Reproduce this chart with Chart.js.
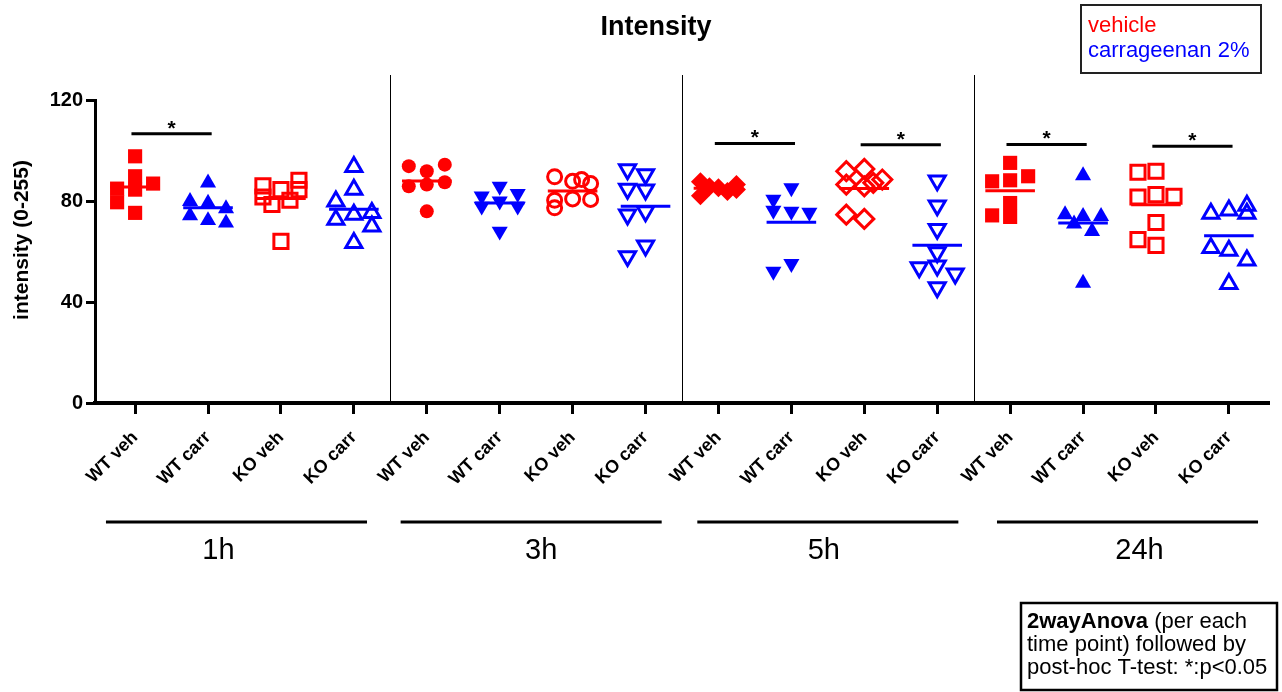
<!DOCTYPE html>
<html>
<head>
<meta charset="utf-8">
<script src="https://cdn.jsdelivr.net/npm/chart.js@4.4.1/dist/chart.umd.min.js"></script>
<style>
  html, body { margin: 0; padding: 0; background: #fff; }
  #wrap { width: 1282px; height: 692px; position: relative; }
</style>
</head>
<body>
<div id="wrap"><canvas id="c" width="1282" height="692"></canvas></div>
<script>
// Groups along the x axis (repeated for each time point)
const categories = ['WT veh', 'WT carr', 'KO veh', 'KO carr'];
const timePoints = ['1h', '3h', '5h', '24h'];
const yTicks = [0, 40, 80, 120];

// Intensity values (0-255 scale) per animal
const wtVeh1h   = [84.5, 84.9, 86.9, 79.5, 89.8, 97.7, 75.3];
const wtCarr1h  = [79.2, 79.9, 77.0, 74.2, 72.3, 71.3, 87.2];
const koVeh1h   = [84.5, 86.0, 88.2, 84.5, 81.6, 80.3, 78.6, 64.0];
const koCarr1h  = [93.5, 84.5, 79.9, 74.6, 75.3, 72.6, 70.0, 63.4];
const wtVeh3h   = [86.5, 85.8, 87.4, 91.8, 93.8, 94.4, 75.9];
const wtCarr3h  = [85.8, 81.9, 82.9, 79.9, 77.9, 77.9, 68.0];
const koVeh3h   = [87.8, 89.6, 86.9, 88.5, 80.8, 77.3, 80.6, 80.3];
const koCarr3h  = [90.5, 92.5, 84.5, 84.8, 75.9, 74.6, 62.3, 58.1];
const wtVeh5h   = [85.2, 87.6, 86.5, 85.6, 82.1, 83.8, 84.6];
const wtCarr5h  = [85.2, 80.6, 75.9, 75.5, 76.3, 55.2, 52.1];
const koVeh5h   = [92.7, 91.8, 88.5, 85.8, 86.5, 87.2, 72.9, 74.6];
const koCarr5h  = [88.1, 78.2, 68.9, 59.6, 54.4, 53.7, 51.2, 45.8];
const wtVeh24h  = [95.1, 88.2, 87.8, 89.8, 79.2, 73.7, 74.3];
const wtCarr24h = [90.1, 73.9, 74.6, 73.9, 71.0, 68.0, 47.5];
const koVeh24h  = [91.8, 91.4, 82.5, 81.6, 81.9, 71.5, 62.4, 64.7];
const koCarr24h = [76.3, 75.0, 78.2, 75.0, 60.4, 61.4, 56.5, 47.2];

// Significant comparisons (group index pairs) and the height of their bars
const sigPairs  = [[0, 1], [8, 9], [10, 11], [12, 13], [14, 15]];
const sigLevels = [106.6, 102.8, 102.3, 102.4, 101.7];

const groups = [
  wtVeh1h, wtCarr1h, koVeh1h, koCarr1h,
  wtVeh3h, wtCarr3h, koVeh3h, koCarr3h,
  wtVeh5h, wtCarr5h, koVeh5h, koCarr5h,
  wtVeh24h, wtCarr24h, koVeh24h, koCarr24h
];

const RED = '#ff0000', BLUE = '#0000ff';
const FONT = '"Liberation Sans", Arial, sans-serif';

// marker style per group: [shape, rotation, filled]
const markerStyles = [
  ['rect', 0, true], ['triangle', 0, true], ['rect', 0, false], ['triangle', 0, false],
  ['circle', 0, true], ['triangle', 180, true], ['circle', 0, false], ['triangle', 180, false],
  ['rectRot', 0, true], ['triangle', 180, true], ['rectRot', 0, false], ['triangle', 180, false],
  ['rect', 0, true], ['triangle', 0, true], ['rect', 0, false], ['triangle', 0, false]
];
const radiusFor = { rect: 10, triangle: 9.3, circle: 7, rectRot: 9.5 };

const mean = a => a.reduce((s, v) => s + v, 0) / a.length;

const pointSets = groups.map((vals, g) => {
  const [shape, rot, filled] = markerStyles[g];
  const col = (g % 2 === 0) ? RED : BLUE;
  return {
    type: 'scatter',
    label: timePoints[Math.floor(g / 4)] + ' ' + categories[g % 4],
    data: vals.map(v => ({ x: g, y: v })),
    pointStyle: shape,
    rotation: rot,
    pointRadius: radiusFor[shape],
    pointHoverRadius: radiusFor[shape],
    backgroundColor: filled ? col : 'rgba(0,0,0,0)',
    borderColor: col,
    borderWidth: filled ? 0 : 3,
    order: 2
  };
});

// horizontal mean bars, red for vehicle groups and blue for carrageenan groups
const HALF = 0.34;
function meanLine(parity) {
  const pts = [];
  groups.forEach((vals, g) => {
    if (g % 2 !== parity) return;
    const m = mean(vals);
    pts.push({ x: g - HALF, y: m }, { x: g + HALF, y: m }, { x: g + 0.5, y: null });
  });
  return pts;
}
const meanSets = [0, 1].map(p => ({
  type: 'line',
  label: p === 0 ? 'vehicle mean' : 'carrageenan mean',
  data: meanLine(p),
  borderColor: p === 0 ? RED : BLUE,
  borderWidth: 3,
  pointRadius: 0,
  spanGaps: false,
  fill: false,
  order: 0
}));

const sigData = [];
sigPairs.forEach(([a, b], i) => {
  sigData.push({ x: a - 0.05, y: sigLevels[i] }, { x: b + 0.05, y: sigLevels[i] }, { x: b + 0.3, y: null });
});
const sigSet = {
  type: 'line', label: 'significance', data: sigData,
  borderColor: '#000', borderWidth: 3, pointRadius: 0, spanGaps: false, fill: false, order: 0
};

// Decorations: group separators, time-point labels, stars, titles, legend and note boxes
const barNudge = [-8, -5, 0, 8];      // px shift of each time-point underline
const labelNudge = [-26, 5, -4, 20];  // px shift of each time-point label
const decor = {
  id: 'decor',
  beforeDatasetsDraw(chart) {
    const { ctx, scales: { x, y } } = chart;
    ctx.save();
    ctx.strokeStyle = '#000';
    ctx.lineWidth = 1;
    [3.5, 7.5, 11.5].forEach(v => {
      const px = Math.round(x.getPixelForValue(v)) + 0.5;
      ctx.beginPath();
      ctx.moveTo(px, 75);
      ctx.lineTo(px, y.getPixelForValue(0));
      ctx.stroke();
    });
    ctx.restore();
  },
  afterDraw(chart) {
    const { ctx, scales: { x, y } } = chart;
    ctx.save();
    // stars above significance bars
    ctx.fillStyle = '#000';
    ctx.font = 'bold 21px ' + FONT;
    ctx.textAlign = 'center';
    ctx.textBaseline = 'alphabetic';
    sigPairs.forEach(([a, b], i) => {
      const cx = x.getPixelForValue((a + b) / 2);
      ctx.fillText('*', cx, y.getPixelForValue(sigLevels[i]) + 1);
    });

    // y axis title
    ctx.save();
    ctx.translate(22, 240);
    ctx.rotate(-Math.PI / 2);
    ctx.textBaseline = 'middle';
    ctx.font = 'bold 21px ' + FONT;
    ctx.fillText('intensity (0-255)', 0, 0);
    ctx.restore();

    // time-point bars and labels
    ctx.lineWidth = 3;
    ctx.strokeStyle = '#000';
    ctx.font = '29px ' + FONT;
    ctx.textBaseline = 'middle';
    timePoints.forEach((t, i) => {
      const c = i * 4 + 1.5;
      ctx.beginPath();
      ctx.moveTo(x.getPixelForValue(c - 1.79) + barNudge[i], 522);
      ctx.lineTo(x.getPixelForValue(c + 1.79) + barNudge[i], 522);
      ctx.stroke();
      ctx.fillText(t, x.getPixelForValue(c) + labelNudge[i], 551);
    });

    // title
    ctx.font = 'bold 27px ' + FONT;
    ctx.fillText('Intensity', 656, 28);

    // legend box
    ctx.lineWidth = 2;
    ctx.strokeStyle = '#222';
    ctx.strokeRect(1081, 5, 180, 68);
    ctx.textAlign = 'left';
    ctx.font = '22px ' + FONT;
    ctx.fillStyle = RED;
    ctx.fillText('vehicle', 1088, 26);
    ctx.fillStyle = BLUE;
    ctx.fillText('carrageenan 2%', 1088, 51);

    // statistics note
    ctx.lineWidth = 2.5;
    ctx.strokeStyle = '#000';
    ctx.strokeRect(1021, 603, 256, 87);
    ctx.fillStyle = '#000';
    ctx.font = 'bold 22px ' + FONT;
    const bold = '2wayAnova';
    ctx.fillText(bold, 1027, 622);
    const bw = ctx.measureText(bold).width;
    ctx.font = '22px ' + FONT;
    ctx.fillText(' (per each', 1027 + bw, 622);
    ctx.fillText('time point) followed by', 1027, 645);
    ctx.fillText('post-hoc T-test: *:p<0.05', 1027, 668);
    ctx.restore();
  }
};

const chart = new Chart(document.getElementById('c'), {
  data: { datasets: [...meanSets, sigSet, ...pointSets] },
  options: {
    responsive: false,
    animation: false,
    devicePixelRatio: 1,
    layout: { padding: { top: 100, right: 10, left: 0, bottom: 0 } },
    plugins: { legend: { display: false }, tooltip: { enabled: false }, title: { display: false } },
    scales: {
      x: {
        type: 'linear',
        min: -0.55,
        max: 15.55,
        afterBuildTicks: s => { s.ticks = groups.map((_, i) => ({ value: i })); },
        afterFit: s => { s.height = 289; },
        ticks: {
          autoSkip: false,
          minRotation: 45,
          maxRotation: 45,
          padding: 13,
          color: '#000',
          font: { family: FONT, size: 18, weight: 'bold' },
          callback: v => categories[Math.round(v) % 4]
        },
        grid: { drawOnChartArea: false, drawTicks: true, tickLength: 11, tickColor: '#000', tickWidth: 3 },
        border: { display: true, color: '#000', width: 4 }
      },
      y: {
        min: 0,
        max: 120,
        afterBuildTicks: s => { s.ticks = yTicks.map(v => ({ value: v })); },
        afterFit: s => { s.width = 95; },
        ticks: { color: '#000', padding: 3, font: { family: FONT, size: 20, weight: 'bold' } },
        grid: { drawOnChartArea: false, drawTicks: true, tickLength: 9, tickColor: '#000', tickWidth: 3 },
        border: { display: true, color: '#000', width: 3 },
        title: { display: false }
      }
    }
  },
  plugins: [decor]
});

// Spread overlapping points sideways (column scatter) within at most two slots
// either side of the group centre; when every slot is taken, use the least crowded one.
function spreadPoints(ch) {
  const xs = ch.scales.x, ys = ch.scales.y;
  const unit = xs.getPixelForValue(1) - xs.getPixelForValue(0);
  const STEP = 9, COLL_W = 14, COLL_H = 13;
  const slots = [0, -1, 1, -2, 2];
  groups.forEach((vals, g) => {
    const placed = [];
    const ds = ch.data.datasets[3 + g];
    vals.forEach((v, idx) => {
      const py = ys.getPixelForValue(v);
      let best = 0, bestCost = Infinity;
      for (const k of slots) {
        const px = k * STEP;
        let cost = 0;
        placed.forEach(p => {
          const dx = Math.abs(p.px - px), dy = Math.abs(p.py - py);
          if (dx < COLL_W && dy < COLL_H) cost += (COLL_W - dx) * (COLL_H - dy);
        });
        if (cost < bestCost) { bestCost = cost; best = k; }
        if (cost === 0) break;
      }
      placed.push({ px: best * STEP, py });
      ds.data[idx] = { x: g + best * STEP / unit, y: v };
    });
  });
  ch.update('none');
}
spreadPoints(chart);
</script>
</body>
</html>
